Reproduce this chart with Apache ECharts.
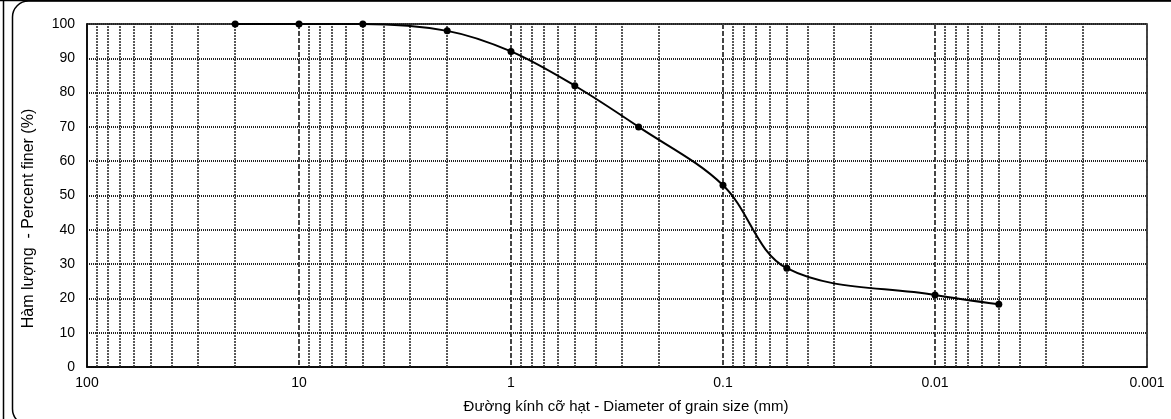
<!DOCTYPE html>
<html>
<head>
<meta charset="utf-8">
<script src="https://cdn.jsdelivr.net/npm/echarts@6/dist/echarts.min.js"></script>
<style>
  html, body { margin: 0; padding: 0; background: #fff; }
  #chart { width: 1171px; height: 419px; }
</style>
</head>
<body>
<div id="chart"></div>
<script>
// grain size (mm) and percent finer
var grainSize = [20, 10, 5, 2, 1, 0.5, 0.25, 0.1, 0.05, 0.01, 0.005];
var percentFiner = [100, 100, 100, 98, 92, 82, 70, 53, 28.8, 21, 18.3];
var decades = [100, 10, 1, 0.1, 0.01];
var minorSteps = [2, 3, 4, 5, 6, 7, 8, 9];

var myChart = echarts.init(document.getElementById('chart'));

// minor grid lines 2..9 in each decade (log axis can't do these itself)
var minorLines = [];
decades.forEach(function (d) {
  minorSteps.forEach(function (m) {
    minorLines.push({ xAxis: +(d / 10 * m).toPrecision(3) });
  });
});

var seriesData = grainSize.map(function (x, i) { return [x, percentFiner[i]]; });

var option = {
  animation: false,
  textStyle: { fontFamily: 'Liberation Sans, Arial, sans-serif' },
  graphic: [
    { type: 'rect', shape: { x: 12.5, y: 1, width: 1180, height: 424, r: 16 },
      style: { fill: 'none', stroke: '#000', lineWidth: 1.5 } },
    { type: 'line', shape: { x1: 0, y1: 0.5, x2: 1171, y2: 0.5 },
      style: { stroke: '#000', lineWidth: 1.5 } },
    { type: 'line', shape: { x1: 3.5, y1: 0, x2: 3.5, y2: 419 },
      style: { stroke: '#000', lineWidth: 1.5 } }
  ],
  grid: {
    left: 87, right: 24, top: 24, bottom: 52,
    show: true, borderColor: '#000', borderWidth: 1.5, backgroundColor: 'transparent'
  },
  xAxis: {
    type: 'log',
    logBase: 10,
    min: 0.001,
    max: 100,
    inverse: true,
    name: 'Đường kính cỡ hạt - Diameter of grain size (mm)',
    nameLocation: 'middle',
    nameGap: 32,
    nameTextStyle: { fontSize: 15, color: '#000', padding: [0, 0, 0, 18] },
    axisLine: { show: true, lineStyle: { color: '#000', width: 1.5 } },
    axisTick: { show: false },
    axisLabel: {
      fontSize: 14, color: '#000', margin: 9,
      formatter: function (v) { return String(+v.toPrecision(3)); }
    },
    splitLine: { show: true, lineStyle: { color: '#444', type: [5, 2], width: 2 } }
  },
  yAxis: {
    type: 'value',
    min: 0,
    max: 100,
    interval: 10,
    name: 'Hàm lượng  - Percent finer (%)',
    nameLocation: 'middle',
    nameGap: 50,
    nameTextStyle: { fontSize: 16, color: '#000', padding: [0, 46, 0, 0] },
    axisLine: { show: true, lineStyle: { color: '#000', width: 1.5 } },
    axisTick: { show: false },
    axisLabel: { fontSize: 14, color: '#000', margin: 12 },
    splitLine: { show: true, lineStyle: { color: '#222', type: [1, 1], width: 2 } }
  },
  series: [
    {
      type: 'line',
      data: [],
      silent: true,
      markLine: {
        silent: true,
        symbol: 'none',
        precision: 6,
        label: { show: false },
        lineStyle: { color: '#222', type: [2, 1], width: 1.5 },
        data: minorLines
      }
    },
    {
      name: 'Percent finer',
      type: 'line',
      data: seriesData,
      smooth: 0.35,
      symbol: 'circle',
      symbolSize: 7,
      itemStyle: { color: '#000' },
      lineStyle: { color: '#000', width: 2 },
      z: 5
    }
  ]
};

option && myChart.setOption(option);
</script>
</body>
</html>
